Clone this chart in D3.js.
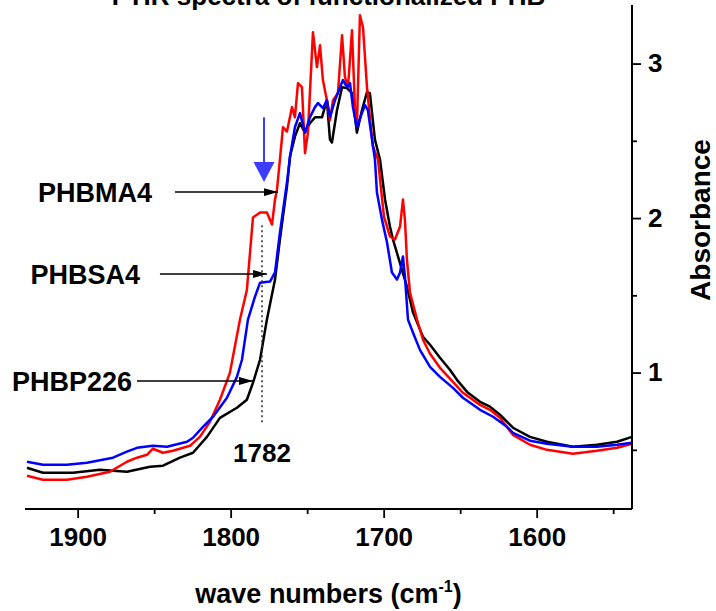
<!DOCTYPE html>
<html><head><meta charset="utf-8">
<script src="https://cdn.jsdelivr.net/npm/d3@7"></script>
<style>
body{margin:0;background:#fff}
svg{display:block}
text{font-family:Arial,"Liberation Sans",Helvetica,sans-serif;font-weight:bold;fill:#000}
</style>
</head><body>
<svg id="chart" width="716" height="611"></svg>
<script>
// ---------- data ----------
const chartTitle = "FTIR spectra of functionalized PHB";
const xMajorTicks = [1900, 1800, 1700, 1600];
const xMinorTicks = [1850, 1750, 1650, 1550];
const yMajorTicks = [1, 2, 3];
const yMinorTicks = [0.5, 1.5, 2.5];
const xDomain = [1934.4, 1537.7];
const yDomain = [0.117, 3.379];

const wnPHBMA4 = [1933.1,1922.7,1907.0,1893.9,1878.9,1867.8,1861.2,1854.7,1850.8,1844.2,1837.7,1826.6,1820.1,1813.5,1807.0,1800.5,1793.9,1789.4,1785.4,1780.8,1776.3,1773.0,1771.0,1769.7,1767.8,1765.8,1763.2,1759.9,1758.0,1756.0,1753.4,1751.4,1749.5,1746.2,1743.6,1741.6,1739.7,1737.1,1735.1,1733.1,1729.9,1727.2,1725.3,1723.3,1720.7,1718.8,1717.5,1715.5,1713.5,1710.9,1709.0,1707.0,1703.7,1701.7,1699.8,1695.9,1692.6,1689.3,1687.4,1686.1,1684.8,1682.8,1678.2,1674.3,1669.7,1663.2,1654.7,1648.2,1637.0,1630.5,1624.0,1615.5,1604.4,1593.3,1576.3,1560.6,1547.5,1537.7];
const absPHBMA4 = [0.332,0.306,0.306,0.326,0.358,0.423,0.449,0.468,0.507,0.481,0.494,0.526,0.584,0.681,0.824,0.998,1.343,1.535,2.004,2.036,2.036,1.958,2.120,2.185,2.379,2.588,2.560,2.718,2.652,2.873,2.847,2.420,2.553,3.202,2.977,3.118,2.893,2.763,2.633,2.763,2.808,3.183,2.912,2.847,3.215,2.718,2.588,3.312,3.235,2.847,2.652,2.463,2.379,2.185,2.010,1.881,1.861,1.945,2.120,1.990,1.732,1.517,1.343,1.213,1.122,1.031,0.940,0.869,0.791,0.759,0.707,0.597,0.533,0.500,0.475,0.494,0.513,0.539];

const wnPHBSA4 = [1933.1,1922.7,1907.0,1893.9,1876.9,1867.8,1861.2,1850.8,1841.6,1828.5,1824.6,1818.1,1811.5,1802.4,1795.9,1792.6,1788.7,1784.1,1780.8,1774.3,1771.0,1767.8,1763.2,1761.2,1758.0,1754.7,1751.4,1748.2,1744.9,1742.9,1739.7,1737.1,1735.1,1731.8,1728.5,1726.6,1724.0,1722.0,1720.1,1717.5,1714.2,1712.2,1710.3,1707.6,1705.7,1704.4,1701.1,1697.8,1694.6,1691.3,1689.3,1687.4,1686.1,1684.1,1680.8,1676.3,1669.7,1663.2,1654.7,1648.2,1637.0,1628.5,1619.4,1615.5,1604.4,1593.3,1576.3,1560.6,1547.5,1537.7];
const absPHBSA4 = [0.423,0.403,0.403,0.416,0.449,0.488,0.513,0.526,0.520,0.552,0.578,0.649,0.714,0.837,0.972,1.083,1.343,1.491,1.582,1.589,1.648,1.906,2.230,2.398,2.588,2.679,2.553,2.652,2.718,2.744,2.711,2.763,2.652,2.763,2.847,2.893,2.847,2.873,2.718,2.588,2.679,2.731,2.698,2.508,2.379,2.165,1.990,1.842,1.648,1.602,1.648,1.751,1.622,1.343,1.258,1.147,1.037,0.972,0.901,0.837,0.759,0.714,0.649,0.610,0.559,0.539,0.520,0.520,0.533,0.546];

const wnPHBP226 = [1933.1,1922.7,1903.1,1885.4,1867.8,1852.7,1844.2,1833.1,1824.6,1815.5,1807.0,1795.9,1789.4,1785.4,1780.8,1776.3,1771.0,1767.8,1763.2,1761.2,1758.0,1754.7,1751.4,1748.2,1744.9,1740.3,1737.1,1735.1,1733.8,1730.5,1727.2,1724.0,1720.7,1717.5,1714.2,1710.9,1709.0,1705.7,1702.4,1699.1,1695.9,1693.9,1690.6,1684.8,1680.8,1674.3,1669.7,1663.2,1656.7,1652.1,1645.5,1637.0,1630.5,1624.0,1615.5,1604.4,1593.3,1576.3,1560.6,1547.5,1537.7];
const absPHBP226 = [0.384,0.352,0.352,0.371,0.358,0.390,0.397,0.449,0.481,0.584,0.707,0.772,0.824,0.934,1.083,1.343,1.602,1.861,2.204,2.398,2.527,2.614,2.553,2.614,2.652,2.652,2.763,2.508,2.489,2.698,2.847,2.841,2.808,2.553,2.698,2.815,2.808,2.508,2.379,2.120,1.945,1.861,1.751,1.556,1.388,1.232,1.180,1.096,1.018,0.953,0.875,0.811,0.779,0.727,0.643,0.584,0.552,0.520,0.533,0.552,0.584];

const seriesNames = ["PHBP226", "PHBMA4", "PHBSA4"];   // draw order
const seriesColors = ["#000000", "#ff0000", "#0000ff"];

// annotations (in data units)
const labelNames = ["PHBMA4", "PHBSA4", "PHBP226"];
const labelEndWn = [1851.4, 1859.3, 1864.5];
const arrowStartWn = [1836.4, 1846.2, 1861.2];
const arrowTipWn = [1769.1, 1776.3, 1785.4];
const arrowAbs = [2.168, 1.638, 0.946];
const markerWn = 1779.5;
const markerLabel = "1782";
const markerAbsRange = [0.662, 1.954];
const blueArrowAbs = [2.652, 2.233];

// ---------- drawing ----------
const svg = d3.select("#chart");
const margin = {left: 25, right: 84, top: 5, bottom: 102};
const W = 716, H = 611;
const x = d3.scaleLinear().domain(xDomain).range([margin.left, W - margin.right]);
const y = d3.scaleLinear().domain(yDomain).range([H - margin.bottom, margin.top]);

const seriesData = {
  PHBMA4: wnPHBMA4.map((w, i) => [w, absPHBMA4[i]]),
  PHBSA4: wnPHBSA4.map((w, i) => [w, absPHBSA4[i]]),
  PHBP226: wnPHBP226.map((w, i) => [w, absPHBP226[i]])
};

// title (partly cut at top, as in the reference)
svg.append("text").attr("x", (x.range()[0] + x.range()[1]) / 2).attr("y", 5)
  .attr("text-anchor", "middle").attr("font-size", 26).text(chartTitle);

// curves
const line = d3.line().x(d => x(d[0])).y(d => y(d[1])).curve(d3.curveLinear);
seriesNames.forEach((name, i) => {
  svg.append("path").datum(seriesData[name])
    .attr("fill", "none").attr("stroke", seriesColors[i])
    .attr("stroke-width", 2.5).attr("stroke-linejoin", "round")
    .attr("d", line);
});

// bottom axis
const xAxisG = svg.append("g").attr("transform", `translate(0,${y.range()[0]})`);
xAxisG.append("line").attr("x1", x.range()[0]).attr("x2", x.range()[1])
  .attr("stroke", "#000").attr("stroke-width", 2);
xAxisG.append("g").call(d3.axisBottom(x).tickValues(xMajorTicks).tickSize(9).tickPadding(10).tickFormat(d3.format("d")));
xAxisG.append("g").call(d3.axisBottom(x).tickValues(xMinorTicks).tickSize(5).tickFormat(""));
xAxisG.selectAll(".domain").remove();
xAxisG.selectAll(".tick line").attr("stroke", "#000").attr("stroke-width", 1.8);
xAxisG.selectAll(".tick text").attr("font-size", 26).attr("font-family", "Arial,'Liberation Sans',sans-serif").attr("font-weight", "bold").attr("fill", "#000");

// right axis
const yAxisG = svg.append("g").attr("transform", `translate(${x.range()[1]},0)`);
yAxisG.append("line").attr("y1", y.range()[0]).attr("y2", y.range()[1])
  .attr("stroke", "#000").attr("stroke-width", 2);
yAxisG.append("g").call(d3.axisRight(y).tickValues(yMajorTicks).tickSize(9).tickPadding(7).tickFormat(d3.format("d")));
yAxisG.append("g").call(d3.axisRight(y).tickValues(yMinorTicks).tickSize(5).tickFormat(""));
yAxisG.selectAll(".domain").remove();
yAxisG.selectAll(".tick line").attr("stroke", "#000").attr("stroke-width", 1.8);
yAxisG.selectAll(".tick text").attr("font-size", 26).attr("font-family", "Arial,'Liberation Sans',sans-serif").attr("font-weight", "bold").attr("fill", "#000");

// axis titles
const xt = svg.append("text").attr("x", (x.range()[0] + x.range()[1]) / 2).attr("y", 603)
  .attr("text-anchor", "middle").attr("font-size", 27);
xt.append("tspan").text("wave numbers (cm");
xt.append("tspan").attr("font-size", 16).attr("dy", -11).text("-1");
xt.append("tspan").attr("dy", 11).text(")");

svg.append("text").attr("transform", `translate(710,${(y.range()[0] + y.range()[1]) / 2 - 37}) rotate(-90)`)
  .attr("text-anchor", "middle").attr("font-size", 28).text("Absorbance");

// annotation arrows & labels
svg.append("defs").append("marker").attr("id", "ah").attr("viewBox", "0 0 14 8")
  .attr("refX", 14).attr("refY", 4).attr("markerWidth", 14).attr("markerHeight", 8)
  .attr("markerUnits", "userSpaceOnUse").attr("orient", "auto")
  .append("path").attr("d", "M0,0L14,4L0,8Z").attr("fill", "#000");

labelNames.forEach((name, i) => {
  svg.append("line").attr("x1", x(arrowStartWn[i])).attr("x2", x(arrowTipWn[i]))
    .attr("y1", y(arrowAbs[i])).attr("y2", y(arrowAbs[i]))
    .attr("stroke", "#000").attr("stroke-width", 1.5).attr("marker-end", "url(#ah)");
  svg.append("text").attr("x", x(labelEndWn[i])).attr("y", y(arrowAbs[i]))
    .attr("dy", "0.36em").attr("text-anchor", "end").attr("font-size", 27).text(name);
});

// dotted marker line and label
svg.append("line").attr("x1", x(markerWn)).attr("x2", x(markerWn))
  .attr("y1", y(markerAbsRange[1])).attr("y2", y(markerAbsRange[0]))
  .attr("stroke", "#333").attr("stroke-width", 1.6).attr("stroke-dasharray", "2,3");
svg.append("text").attr("x", x(markerWn)).attr("y", y(markerAbsRange[0]) + 37)
  .attr("text-anchor", "middle").attr("font-size", 26).text(markerLabel);

// blue down arrow
const bx = x(markerWn) + 2;
const by0 = y(blueArrowAbs[0]), by1 = y(blueArrowAbs[1]);
svg.append("line").attr("x1", bx).attr("x2", bx).attr("y1", by0).attr("y2", by1 - 18)
  .attr("stroke", "#3c3cff").attr("stroke-width", 2);
svg.append("path").attr("d", `M${bx - 10.5},${by1 - 20}L${bx + 10.5},${by1 - 20}L${bx},${by1}Z`)
  .attr("fill", "#3c3cff");
</script>
</body></html>
